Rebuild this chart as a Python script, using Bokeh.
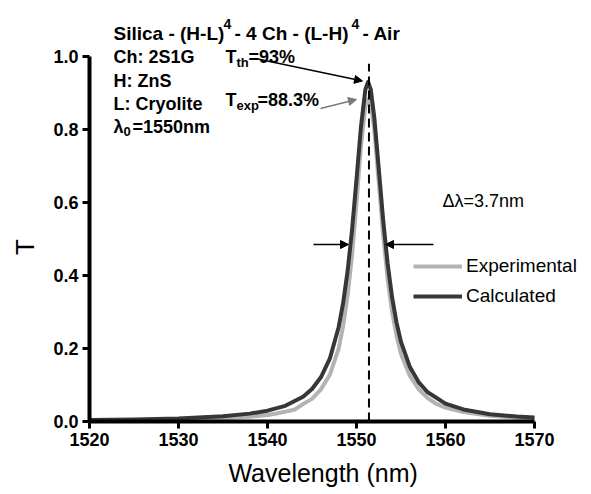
from bokeh.plotting import figure
from bokeh.models import (Range1d, FixedTicker, PrintfTickFormatter, Label, Arrow,
                          NormalHead, Legend, LegendItem)
from bokeh.embed import file_html
from bokeh.resources import INLINE

# ---------------- data ----------------
wl_calc = [1520, 1525, 1530, 1535, 1538, 1540, 1542, 1544, 1545, 1546, 1547, 1548, 1548.5,
           1549, 1549.5, 1550, 1550.5, 1551, 1551.3, 1551.6, 1552, 1552.5, 1553, 1553.5,
           1554, 1554.5, 1555, 1556, 1557, 1558, 1560, 1562, 1565, 1568, 1570]
t_calc = [0.004, 0.0056, 0.0085, 0.0145, 0.0216, 0.0296, 0.043, 0.068, 0.089, 0.121, 0.172,
          0.259, 0.325, 0.412, 0.525, 0.663, 0.807, 0.910, 0.930, 0.910, 0.833, 0.693, 0.551,
          0.432, 0.340, 0.271, 0.218, 0.149, 0.107, 0.080, 0.049, 0.033, 0.020, 0.0138, 0.011]

wl_exp = [1520, 1525, 1530, 1535, 1538, 1540, 1541, 1542, 1543, 1544, 1545, 1546, 1547, 1548,
          1548.5, 1549, 1549.5, 1550, 1550.5, 1551, 1551.3, 1551.6, 1552, 1552.5, 1553, 1553.5,
          1554, 1554.5, 1555, 1556, 1557, 1558, 1559, 1560, 1562, 1565, 1568, 1570]
t_exp = [0.002, 0.003, 0.005, 0.009, 0.013, 0.018, 0.022, 0.027, 0.032, 0.048, 0.062, 0.088,
         0.128, 0.200, 0.262, 0.345, 0.455, 0.600, 0.755, 0.865, 0.883, 0.870, 0.800, 0.655,
         0.510, 0.390, 0.300, 0.235, 0.185, 0.125, 0.088, 0.064, 0.048, 0.038, 0.026, 0.016,
         0.010, 0.008]

peak_wl = 1551.4
peak_line_top = 0.98
x_ticks = [1520, 1530, 1540, 1550, 1560, 1570]
y_ticks = [0.0, 0.2, 0.4, 0.6, 0.8, 1.0]
series_names = ["Experimental", "Calculated"]

# ---------------- layout ----------------
W, H = 591, 494
FL, FR, FT, FB = 89, 534, 56, 421   # pixel positions of x=1520, x=1570, y=1.0, y=0.0
X0, X1, Y0, Y1 = 1520, 1570, 0.0, 1.0

def X(px):
    return X0 + (px - FL) * (X1 - X0) / (FR - FL)

def Y(py):
    return Y0 + (FB - py) * (Y1 - Y0) / (FB - FT)

FONT = "Liberation Sans"
GRAY = "#b3b3b3"
DARK = "#373737"
NB = "\u00a0"

# frame extends to the top and right edges of the canvas so annotations are not clipped
p = figure(width=W, height=H, output_backend="svg", toolbar_location=None,
           x_range=Range1d(X0, X(W)), y_range=Range1d(Y0, Y(0)),
           min_border_left=FL, min_border_right=0,
           min_border_top=0, min_border_bottom=H - FB)
p.title.visible = False
p.outline_line_color = None
p.xgrid.visible = False
p.ygrid.visible = False
p.background_fill_color = "white"

for ax in (p.xaxis[0], p.yaxis[0]):
    ax.axis_line_width = 4
    ax.axis_line_color = "black"
    ax.major_tick_line_width = 3
    ax.major_tick_out = 7
    ax.major_tick_in = 0
    ax.minor_tick_line_color = None
    ax.major_label_text_font = FONT
    ax.major_label_text_font_style = "bold"
    ax.major_label_text_font_size = "18px"
    ax.major_label_text_color = "black"
    ax.major_label_standoff = 4
    ax.axis_label_text_font = FONT
    ax.axis_label_text_font_style = "normal"
    ax.axis_label_text_color = "black"

p.xaxis[0].bounds = (X0, X1)
p.yaxis[0].bounds = (Y0, Y1)
p.xaxis[0].ticker = FixedTicker(ticks=x_ticks)
p.yaxis[0].ticker = FixedTicker(ticks=y_ticks)
p.yaxis[0].formatter = PrintfTickFormatter(format="%.1f")

# axis titles (non-breaking spaces shift them to where the reference places them)
p.xaxis[0].axis_label = "Wavelength (nm)" + NB * 5
p.xaxis[0].axis_label_text_font_size = "25px"
p.xaxis[0].axis_label_standoff = 10
p.yaxis[0].axis_label = "T" + NB * 10
p.yaxis[0].axis_label_text_font_size = "26px"
p.yaxis[0].axis_label_standoff = 10

r_exp = p.line(wl_exp, t_exp, line_color=GRAY, line_width=4, line_join="round")
r_calc = p.line(wl_calc, t_calc, line_color=DARK, line_width=4, line_join="round")
p.segment(x0=[peak_wl], y0=[0.0], x1=[peak_wl], y1=[peak_line_top],
          line_color="black", line_width=2, line_dash="9 5")

legend = Legend(items=[LegendItem(label=series_names[0], renderers=[r_exp]),
                       LegendItem(label=series_names[1], renderers=[r_calc])],
                location=(413 - FL, FB - 307), orientation="vertical",
                glyph_width=49, glyph_height=20, label_height=20, spacing=8,
                label_standoff=4, padding=0, margin=0,
                border_line_color=None, background_fill_alpha=0,
                label_text_font=FONT, label_text_font_size="19px",
                label_text_color="black")
p.add_layout(legend)

def lab(px, py, text, size=18, bold=True, color="black"):
    p.add_layout(Label(x=X(px), y=Y(py), text=text, text_font=FONT,
                       text_font_size=f"{size}px",
                       text_font_style="bold" if bold else "normal",
                       text_color=color, text_baseline="alphabetic", text_align="left"))

# title line with superscripts
lab(113, 33, "Silica - (H-L)", size=19)
lab(223, 23, "4", size=14)
lab(234, 33, "- 4 Ch - (L-H)", size=19)
lab(351, 23, "4", size=14)
lab(362, 33, "- Air", size=19)

# parameter block
lab(113, 56, "Ch: 2S1G")
lab(113, 80, "H: ZnS")
lab(113, 103, "L: Cryolite")
lab(113, 126, "λ")
lab(123, 131, "0", size=13)
lab(132, 126, "=1550nm")

# transmission annotations
lab(225, 56, "T")
lab(236, 62, "th", size=13)
lab(248, 56, "=93%")
lab(225, 99, "T")
lab(236, 105, "exp", size=13)
lab(257, 99, "=88.3%")

lab(442, 200, "Δλ=3.7nm", size=18, bold=False)

def arrow(px0, py0, px1, py1, color="black", size=8):
    p.add_layout(Arrow(x_start=X(px0), y_start=Y(py0), x_end=X(px1), y_end=Y(py1),
                       line_color=color, line_width=1.3,
                       end=NormalHead(size=size, fill_color=color, line_color=color)))

arrow(255, 58, 362, 80.5)
arrow(320, 108, 356, 99, color="#7a7a7a")
arrow(313, 244, 348, 244)
arrow(433, 244, 385, 244)

open("out.html", "w").write(file_html(p, INLINE))
